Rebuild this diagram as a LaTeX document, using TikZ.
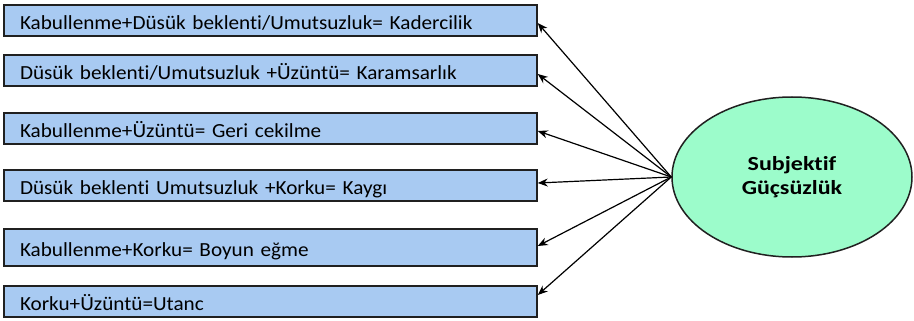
\documentclass[tikz,border=0pt]{standalone}
\usepackage{fontspec}
\setmainfont{Carlito}[FakeStretch=1.06, Ligatures=NoCommon]
\newfontfamily\widebold{Carlito}[FakeStretch=1.2, Ligatures=NoCommon]
\usetikzlibrary{shapes.geometric,arrows.meta}
\definecolor{boxblue}{HTML}{A8CAF2}
\definecolor{mint}{HTML}{9CFCCB}
\definecolor{edge}{HTML}{202020}
\tikzset{
  box/.style={draw=edge, line width=1.5pt, fill=boxblue, minimum width=533pt,
    minimum height=31pt, inner xsep=16pt, inner ysep=0pt, text width=501pt,
    align=left, text height=20pt, text depth=2pt, font=\fontsize{20}{24}\selectfont},
  oval/.style={ellipse, draw=edge, line width=1.5pt, fill=mint, minimum width=240pt,
    minimum height=160pt, align=center, font=\widebold\bfseries\fontsize{20}{24}\selectfont},
  arr/.style={-{Stealth[length=10pt,width=8pt]}, line width=1.2pt}
}
\begin{document}
\begin{tikzpicture}[x=1pt,y=-1pt]
\useasboundingbox (0,0) rectangle (914,321);
\node[box] (b1) at (270.5,20.5) {Kabullenme+Düsük beklenti/Umutsuzluk= Kadercilik};
\node[box] (b2) at (270.5,70.5) {Düsük beklenti/Umutsuzluk +Üzüntü= Karamsarlık};
\node[box] (b3) at (270.5,128.5) {Kabullenme+Üzüntü= Geri cekilme};
\node[box] (b4) at (270.5,185.5) {Düsük beklenti Umutsuzluk +Korku= Kaygı};
\node[box, minimum height=37pt] (b5) at (270.5,247.5) {Kabullenme+Korku= Boyun eğme};
\node[box] (b6) at (270.5,301.5) {Korku+Üzüntü=Utanc};
\node[oval] (e) at (792,177) {Subjektif\\Güçsüzlük};
\draw[arr] (e.west) -- ([yshift=-2.5pt]b1.east);
\draw[arr] (e.west) -- ([yshift=-3.5pt]b2.east);
\draw[arr] (e.west) -- ([yshift=-2.5pt]b3.east);
\draw[arr] (e.west) -- ([yshift=2.5pt]b4.east);
\draw[arr] (e.west) -- ([yshift=1.5pt]b5.east);
\draw[arr] (e.west) -- ([yshift=6.5pt]b6.east);
\end{tikzpicture}
\end{document}
